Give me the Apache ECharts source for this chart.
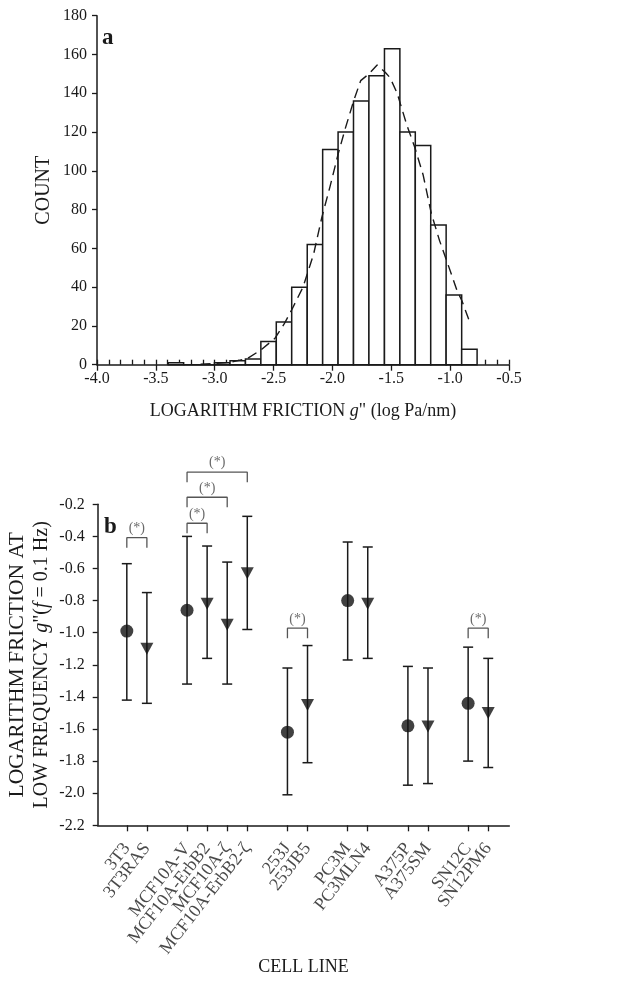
<!DOCTYPE html>
<html>
<head>
<meta charset="utf-8">
<script src="https://cdn.jsdelivr.net/npm/echarts@6/dist/echarts.min.js"></script>
<style>html,body{margin:0;padding:0;background:#fff}#c{width:633px;height:988px}</style>
</head>
<body>
<div id="c"></div>
<script>
// ---- Panel a: histogram ----
const binEdges = [-3.395,-3.264,-3.133,-3.002,-2.870,-2.739,-2.608,-2.477,-2.346,-2.214,-2.083,-1.952,-1.821,-1.690,-1.558,-1.427,-1.296,-1.165,-1.034,-0.902,-0.771];
const counts = [1,0,0,1,2,3,12,22,40,62,111,120,136,149,163,120,113,72,36,8];
const curveX = [-3.12,-3.0,-2.87,-2.72,-2.61,-2.49,-2.41,-2.34,-2.25,-2.16,-2.09,-2.02,-1.95,-1.89,-1.82,-1.76,-1.69,-1.62,-1.55,-1.51,-1.45,-1.37,-1.30,-1.23,-1.16,-1.09,-1.02,-0.94,-0.90,-0.84];
const curveY = [0.2,0.7,1.2,3.3,7.5,13.5,21,29,40,57,76,92,109,122,136,146.5,150,154.6,150.7,148,140,124,112,98,78,64,52,38,33,23];

// ---- Panel b: cell lines ----
const cellLines = ['3T3','3T3RAS','MCF10A-V','MCF10A-ErbB2','MCF10A-\u03B6','MCF10A-ErbB2-\u03B6','253J','253JB5','PC3M','PC3MLN4','A375P','A375SM','SN12C','SN12PM6'];
const xPos = [0,1,3,4,5,6,8,9,11,12,14,15,17,18];
const markerType = ['circle','tri','circle','tri','tri','tri','circle','tri','circle','tri','circle','tri','circle','tri'];
const means = [-0.99,-1.10,-0.86,-0.82,-0.95,-0.63,-1.62,-1.45,-0.80,-0.82,-1.58,-1.585,-1.44,-1.50];
const upper = [-0.57,-0.75,-0.40,-0.46,-0.56,-0.275,-1.22,-1.08,-0.435,-0.466,-1.21,-1.22,-1.09,-1.16];
const lower = [-1.42,-1.44,-1.32,-1.16,-1.32,-0.98,-2.01,-1.81,-1.17,-1.16,-1.95,-1.94,-1.80,-1.84];
// significance brackets: [x1, x2, top, drop, labelY]
const brackets = [
  [0,1,-0.408,-0.47,-0.35],
  [3,4,-0.318,-0.38,-0.26],
  [3,5,-0.156,-0.219,-0.10],
  [3,6,0.0,-0.063,0.06],
  [8,9,-0.972,-1.035,-0.915],
  [17,18,-0.972,-1.035,-0.915]
];
const yMinB = -2.2;

const FONT = 'Liberation Serif';
const INK = '#1a1a1a';
const chart = echarts.init(document.getElementById('c'), null, {renderer:'canvas'});

const histData = counts.map((c,i)=>[binEdges[i], binEdges[i+1], c]);
const curveData = curveX.map((x,i)=>[x, curveY[i]]);
const errData = xPos.map((x,i)=>[x, lower[i], upper[i]]);
const circData = [], triData = [];
xPos.forEach((x,i)=>{ (markerType[i]==='circle'?circData:triData).push([x, means[i]]); });
const catLabelData = xPos.map((x,i)=>({value:[x, yMinB], name:cellLines[i]}));

const bracketSeries = brackets.map(b=>({
  type:'line', xAxisIndex:2, yAxisIndex:1, clip:false, symbol:'none', silent:true,
  lineStyle:{color:'#555', width:1.3},
  data:[[b[0],b[3]],[b[0],b[2]],[b[1],b[2]],[b[1],b[3]]],
  z:3
}));
const starData = brackets.map(b=>[(b[0]+b[1])/2, b[4]]);

const axisTxt = {fontFamily:FONT, fontSize:16, color:INK};

const option = {
  backgroundColor:'#fff',
  animation:false,
  grid:[
    {left:97, right:124, top:15.7, height:349, containLabel:false, outerBoundsMode:'none'},
    {left:97.7, right:123.7, top:504.3, height:321, containLabel:false, outerBoundsMode:'none'}
  ],
  xAxis:[
    {type:'value', gridIndex:0, position:'bottom', min:-4, max:-0.5, interval:0.5,
     axisLine:{onZero:false, lineStyle:{color:INK, width:1.5}},
     axisTick:{show:true, length:6, lineStyle:{color:INK, width:1.3}},
     axisLabel:{...axisTxt, margin:6, formatter:v=>v.toFixed(1)},
     splitLine:{show:false},
     name:'{n|LOGARITHM FRICTION }{i|g}{n|" (log Pa/nm)}', nameLocation:'middle', nameGap:38, nameMoveOverlap:false,
     nameTextStyle:{rich:{n:{fontFamily:FONT, fontSize:18, color:INK}, i:{fontFamily:FONT, fontSize:18, fontStyle:'italic', color:INK}}}
    },
    {type:'value', gridIndex:0, position:'bottom', min:-4, max:-0.5, interval:0.1,
     axisLine:{show:false, onZero:false},
     axisTick:{show:true, inside:true, length:5, lineStyle:{color:INK, width:1.3}},
     axisLabel:{show:false}, splitLine:{show:false}
    },
    {type:'value', gridIndex:1, position:'bottom', min:-1.45, max:19.05,
     axisLine:{onZero:false, lineStyle:{color:INK, width:1.5}},
     axisTick:{show:true, length:6, customValues:xPos, lineStyle:{color:INK, width:1.3}},
     axisLabel:{show:false},
     splitLine:{show:false},
     name:'CELL LINE', nameLocation:'middle', nameGap:133, nameMoveOverlap:false,
     nameTextStyle:{fontFamily:FONT, fontSize:18, color:INK}
    }
  ],
  yAxis:[
    {type:'value', gridIndex:0, position:'left', min:0, max:180, interval:20,
     axisLine:{show:true, onZero:false, lineStyle:{color:INK, width:1.5}},
     axisTick:{show:true, length:5, lineStyle:{color:INK, width:1.3}},
     axisLabel:{...axisTxt, margin:10},
     splitLine:{show:false},
     name:'COUNT', nameLocation:'middle', nameGap:43, nameRotate:90, nameMoveOverlap:false,
     nameTextStyle:{fontFamily:FONT, fontSize:20, color:INK}
    },
    {type:'value', gridIndex:1, position:'left', min:yMinB, max:-0.2, interval:0.2,
     axisLine:{show:true, onZero:false, lineStyle:{color:INK, width:1.5}},
     axisTick:{show:true, length:5, lineStyle:{color:INK, width:1.3}},
     axisLabel:{...axisTxt, margin:13, formatter:v=>v.toFixed(1)},
     splitLine:{show:false},
     name:'{a|LOGARITHM FRICTION AT}\n{n|LOW FREQUENCY }{i|g}{n|"(}{i|f}{n| = 0.1 Hz)}',
     nameLocation:'middle', nameGap:44, nameRotate:90, nameMoveOverlap:false,
     nameTextStyle:{lineHeight:24, rich:{
       a:{fontFamily:FONT, fontSize:21.5, color:INK, lineHeight:24},
       n:{fontFamily:FONT, fontSize:20, color:INK, lineHeight:24},
       i:{fontFamily:FONT, fontSize:20, fontStyle:'italic', color:INK, lineHeight:24}}}
    }
  ],
  graphic:[
    {type:'text', left:102, top:27, style:{text:'a', font:'bold 23px "Liberation Serif"', fill:INK}},
    {type:'text', left:104, top:516, style:{text:'b', font:'bold 23px "Liberation Serif"', fill:INK}}
  ],
  series:[
    {type:'custom', xAxisIndex:0, yAxisIndex:0, data:histData, z:2,
     renderItem:(params, api)=>{
       const p0 = api.coord([api.value(0), api.value(2)]);
       const p1 = api.coord([api.value(1), 0]);
       return {type:'rect', shape:{x:p0[0], y:p0[1], width:p1[0]-p0[0], height:p1[1]-p0[1]},
               style:{fill:'#fff', stroke:INK, lineWidth:1.5}};
     }},
    {type:'line', xAxisIndex:0, yAxisIndex:0, data:curveData, symbol:'none', z:4,
     lineStyle:{color:INK, width:1.4, type:[10,6]}},
    {type:'custom', xAxisIndex:2, yAxisIndex:1, data:errData, z:3,
     renderItem:(params, api)=>{
       const lo = api.coord([api.value(0), api.value(1)]);
       const hi = api.coord([api.value(0), api.value(2)]);
       const st = {stroke:INK, lineWidth:1.5};
       return {type:'group', children:[
         {type:'line', shape:{x1:lo[0], y1:lo[1], x2:hi[0], y2:hi[1]}, style:st},
         {type:'line', shape:{x1:lo[0]-5, y1:lo[1], x2:lo[0]+5, y2:lo[1]}, style:st},
         {type:'line', shape:{x1:hi[0]-5, y1:hi[1], x2:hi[0]+5, y2:hi[1]}, style:st}
       ]};
     }},
    {type:'scatter', xAxisIndex:2, yAxisIndex:1, data:circData, symbol:'circle', symbolSize:13, z:5,
     itemStyle:{color:'#111'}},
    {type:'scatter', xAxisIndex:2, yAxisIndex:1, data:triData, symbol:'triangle', symbolRotate:180, symbolSize:[13,12], z:5,
     itemStyle:{color:'#111'}},
    ...bracketSeries,
    {type:'scatter', xAxisIndex:2, yAxisIndex:1, data:starData, symbolSize:0, clip:false, z:6, silent:true,
     label:{show:true, position:'inside', formatter:'(*)', fontFamily:FONT, fontSize:14, color:'#444'}},
    {type:'scatter', xAxisIndex:2, yAxisIndex:1, data:catLabelData, symbolSize:0, clip:false, z:6, silent:true,
     labelLayout:{hideOverlap:false},
     label:{show:true, position:[0, 20], formatter:p=>p.name, rotate:52, align:'right', verticalAlign:'middle',
            fontFamily:FONT, fontSize:18, color:INK}}
  ]
};
chart.setOption(option);
</script>
</body>
</html>
